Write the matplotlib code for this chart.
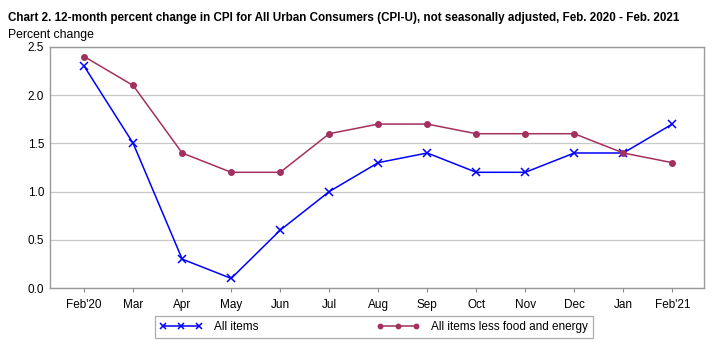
import matplotlib
matplotlib.use("Agg")
import matplotlib.pyplot as plt

months = ["Feb'20", "Mar", "Apr", "May", "Jun", "Jul", "Aug", "Sep",
          "Oct", "Nov", "Dec", "Jan", "Feb'21"]
all_items = [2.3, 1.5, 0.3, 0.1, 0.6, 1.0, 1.3, 1.4, 1.2, 1.2, 1.4, 1.4, 1.7]
core = [2.4, 2.1, 1.4, 1.2, 1.2, 1.6, 1.7, 1.7, 1.6, 1.6, 1.6, 1.4, 1.3]
yticks = [0.0, 0.5, 1.0, 1.5, 2.0, 2.5]

plt.rcParams['font.family'] = ['Liberation Sans', 'DejaVu Sans']

fig = plt.figure(figsize=(7.12, 3.5), dpi=100)
ax = fig.add_axes([0.070, 0.177, 0.919, 0.689])

x = range(len(months))
ax.plot(x, all_items, color='#0000ff', lw=1.1, marker='x', ms=6, mew=1.1,
        label='All items')
ax.plot(x, core, color='#a3305f', lw=1.1, marker='o', ms=4,
        label='All items less food and energy')

ax.set_xlim(-0.7, 12.65)
ax.set_ylim(0, 2.5)
ax.set_yticks(yticks)
ax.set_yticklabels([f'{v:.1f}' for v in yticks], fontsize=8.5)
ax.set_xticks(list(x))
ax.set_xticklabels(months, fontsize=8.5)
ax.tick_params(axis='y', length=0, pad=4)
ax.tick_params(axis='x', length=3, color='#888888', pad=5)
ax.grid(axis='y', color='#c8c8c8', lw=0.9)
ax.set_axisbelow(True)
for s in ax.spines.values():
    s.set_color('#999999')
    s.set_linewidth(1.0)

fig.text(0.011, 0.95, 'Chart 2. 12-month percent change in CPI for All Urban Consumers (CPI-U), '
         'not seasonally adjusted, Feb. 2020 - Feb. 2021',
         fontsize=8.4, fontweight='bold', va='center')
fig.text(0.011, 0.9, 'Percent change', fontsize=8.8, va='center')

leg = fig.legend(loc='center', bbox_to_anchor=(0.525, 0.066), ncol=2, fontsize=8.5,
                 frameon=True, fancybox=False, edgecolor='#999999',
                 handlelength=3.6, numpoints=3, columnspacing=10, borderpad=0.4,
                 markerscale=0.8, handletextpad=1.0)
leg.get_frame().set_linewidth(0.9)

fig.savefig('out.png', dpi=100)
